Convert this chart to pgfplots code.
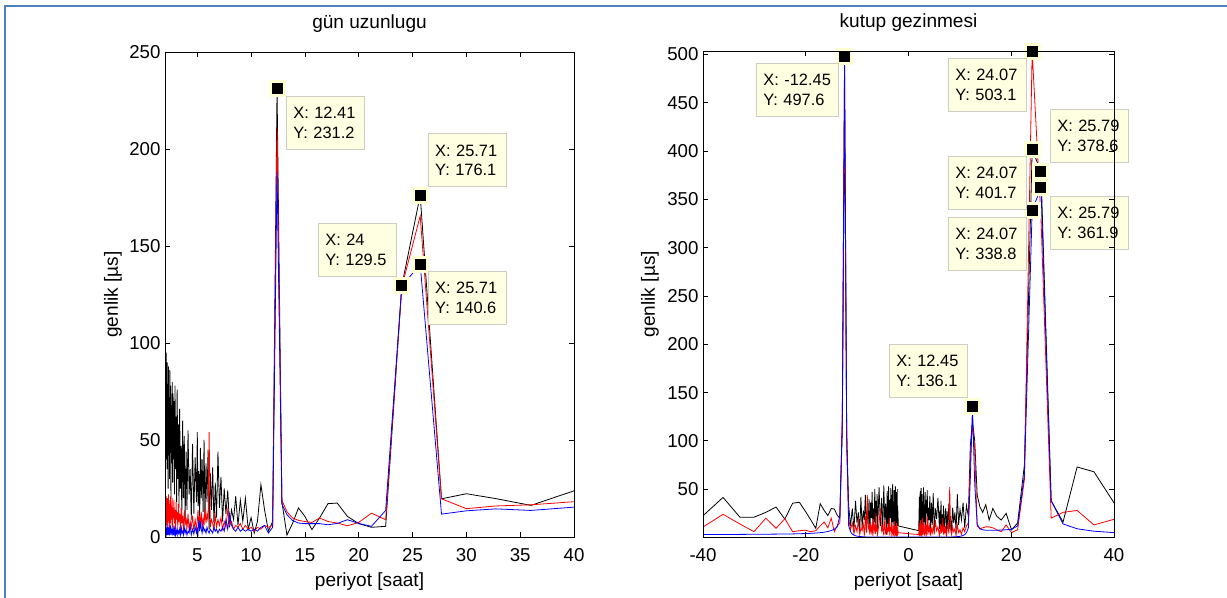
\documentclass[border=0pt]{standalone}
\usepackage{fontspec}
\setmainfont{Liberation Sans}
\usepackage{pgfplots}
\usepackage{pgfplotstable}
\pgfplotsset{compat=1.18}

\definecolor{frameblue}{RGB}{79,129,189}
\definecolor{tipfill}{RGB}{255,255,225}
\definecolor{tipborder}{RGB}{205,205,195}
\definecolor{halo}{RGB}{255,255,212}

% spectrum of length-of-day series: period [h], black, red, blue
\pgfplotstableread{
x bl re bu
2.00 78 14 2
2.01 97 20 3
2.03 60 9 1
2.06 88 18 6
2.08 40 6 2
2.11 95 21 4
2.13 52 10 1
2.16 82 16 5
2.18 35 5 2
2.21 90 20 3
2.24 48 12 1
2.26 76 18 7
2.29 25 7 2
2.32 88 22 4
2.35 42 9 1
2.38 72 19 5
2.42 30 4 2
2.45 86 17 3
2.48 45 11 1
2.52 78 21 6
2.55 20 6 2
2.59 68 16 4
2.63 38 9 1
2.67 80 20 5
2.71 28 5 2
2.75 74 15 3
2.79 40 10 1
2.83 70 19 6
2.88 22 7 2
2.93 78 14 4
2.98 35 4 1
3.03 62 18 3
3.08 18 9 2
3.13 76 13 5
3.19 30 5 1
3.24 58 17 3
3.30 15 8 2
3.36 66 12 4
3.43 25 4 1
3.50 47 15 6
3.56 11 7 2
3.64 60 11 3
3.71 20 3 1
3.79 52 14 5
3.87 8 6 2
3.96 44 10 4
4.04 14 4 1
4.14 55 12 3
4.24 22 3 2
4.34 35 8 6
4.44 9 5 1
4.56 48 11 4
4.68 12 3 1.5
4.80 41 9 5
4.93 18 4 2
5.00 54 8 4
5.07 16 14 2
5.14 34 5 9
5.22 7 11 3
5.29 46 6 8
5.37 20 13 4
5.45 40 4 2
5.54 13 10 6
5.63 50 6 3
5.71 9 15 4
5.81 38 7 2
5.90 18 12 5
6.00 45 8 3
6.10 4 54 2
6.21 33 5 4
6.32 14 9 3
6.43 36 7 2
6.55 6 4 5
6.67 28 11 3
6.79 10 5 4
6.92 44 9 2
7.06 15 6 4
7.20 31 10 3
7.35 8 4 5
7.50 25 8 3
7.66 12 5 9
7.83 24 14 4
8.00 5 6 12
8.18 14 8 6
8.37 9 4 4
8.57 21 6 3
8.78 6 5 5
9.00 19 7 3
9.23 8 4 4
9.47 20 6 3
9.73 4 4 4
10.00 10 5 3
10.29 2 3 4
10.59 8 5 3
10.91 27 4 5
11.25 14 6 6
11.61 3 5 2
12.00 8 6 5
12.41 231.2 211 188
12.86 18 19 17
13.33 1 13 11.5
13.85 7 9.8 8.5
14.40 15 8.6 7.2
15.00 10.6 8 6.9
15.65 3.8 7.5 6.9
16.36 9.8 9.8 6.9
17.14 17.2 8 6.3
18.00 17.5 7.2 7
18.95 10.6 5.8 8.9
20.00 6.9 7.5 7
21.18 5 12.3 5.5
22.50 5.5 8.9 13.7
24.00 129.5 129 129.3
25.71 176.1 165.5 140.6
27.69 19.7 19.7 11.8
30.00 22.3 14.6 13.5
32.73 19.8 16 14.5
36.00 16.3 16.6 13.7
40.00 23.8 18.2 15.4
}\gunuzun

% spectrum of polar motion series: signed period [h], black, red, blue
\pgfplotstableread{
x bl re bu
-40.11 22 10.5 3.0
-36.10 41.5 24 3.1
-32.82 21 14 3.2
-30.08 21 6 3.3
-27.77 26 20 3.4
-25.79 31.5 9.5 3.5
-24.07 19 19.5 3.6
-22.56 35.5 6 3.7
-21.24 36.5 7 3.9
-20.06 27 7.5 4.1
-19.00 18 6 4.3
-18.05 9.5 7 4.6
-17.19 35 12 5.0
-16.41 28 16 5.5
-15.70 22.6 10 6.2
-15.04 30 20 7.2
-14.44 29.5 6 8.6
-13.88 23 12 11
-13.37 20 15 22
-12.89 110 125 120
-12.45 452 488 497.6
-12.03 105 92 110
-11.65 33 20 12
-11.28 12 8 6
-10.94 30 15 3.5
-10.62 8 4 2.5
-10.31 38 12 1.8
-10.03 15 6 1.4
-9.76 26 18 1.2
-9.50 6 3 1.0
-9.26 42 10 0.9
-9.03 10 7 0.8
-8.80 28 14 0.75
-8.60 18 2 0.7
-8.40 44 22 0.6
-8.20 7 5 0.6
-8.02 32 44 0.6
-7.85 14 9 0.6
-7.68 40 13 0.6
-7.52 5 3 0.6
-7.37 36 16 0.6
-7.22 20 6 0.6
-7.08 47 11 0.6
-6.94 9 2 0.6
-6.81 30 19 0.6
-6.69 16 8 0.6
-6.56 50 12 0.6
-6.45 4 4 0.6
-6.33 38 25 0.6
-6.22 22 6 0.6
-6.12 45 10 0.6
-6.02 8 3 0.6
-5.73 52 15 0.6
-5.47 12 30 0.6
-5.23 41 7 0.6
-5.01 6 12 0.6
-4.81 54 2 0.6
-4.63 18 18 0.6
-4.46 35 5 0.6
-4.30 3 9 0.6
-4.15 48 3 0.6
-4.01 14 14 0.6
-3.88 53 6 0.6
-3.76 9 20 0.6
-3.65 39 2 0.6
-3.54 20 11 0.6
-3.44 51 7 0.6
-3.34 5 16 0.6
-3.25 44 1 0.6
-3.17 16 9 0.6
-3.09 55 4 0.6
-3.01 10 13 0.6
-2.93 37 2 0.6
-2.87 22 8 0.6
-2.80 49 5 0.6
-2.73 7 17 0.6
-2.67 42 1 0.6
-2.62 15 10 0.6
-2.56 53 3 0.6
-2.51 11 12 0.6
-2.46 35 2 0.6
-2.41 25 7 0.6
-2.36 47 4 0.6
-2.31 8 15 0.6
-2.27 40 1 0.6
-2.23 18 6 0.6
-2.19 50 9 0.6
-2.15 12 2 0.6
-2.11 33 11 0.6
-2.07 20 3 0.6
-2.04 27 7 0.6
-2.01 12 5 0.6
2.01 7 3 0.6
2.04 30 9 0.6
2.07 12 2 0.6
2.11 42 12 0.6
2.15 5 5 0.6
2.19 36 15 0.6
2.23 18 1 0.6
2.27 48 8 0.6
2.31 9 4 0.6
2.36 33 18 0.6
2.41 22 2 0.6
2.46 51 10 0.6
2.51 6 6 0.6
2.56 40 14 0.6
2.62 14 1 0.6
2.67 45 7 0.6
2.73 3 20 0.6
2.80 37 3 0.6
2.87 20 11 0.6
2.93 52 5 0.6
3.01 8 16 0.6
3.09 34 2 0.6
3.17 16 9 0.6
3.25 47 4 0.6
3.34 4 13 0.6
3.44 39 1 0.6
3.54 25 8 0.6
3.65 49 22 0.6
3.76 10 3 0.6
3.88 31 10 0.6
4.01 18 6 0.6
4.15 43 15 0.6
4.30 6 2 0.6
4.46 36 9 0.6
4.63 13 5 0.6
4.81 46 12 0.6
5.01 7 3 0.6
5.23 30 18 0.6
5.47 19 7 0.6
5.73 41 11 0.6
6.02 9 2 0.6
6.12 28 8 0.6
6.22 14 14 0.6
6.33 38 4 0.6
6.45 5 10 0.6
6.56 24 6 0.6
6.69 11 20 0.6
6.81 33 3 0.6
6.94 8 9 0.6
7.08 20 5 0.6
7.22 30 12 0.6
7.37 6 2 0.6
7.52 27 7 0.6
7.68 12 15 0.6
7.85 35 4 0.6
8.02 9 52 0.6
8.20 22 8 0.6
8.40 4 3 0.6
8.60 31 11 0.6
8.80 15 6 0.7
9.03 26 9 0.75
9.26 7 2 0.8
9.50 45 13 0.9
9.76 13 5 1.0
10.03 29 8 1.2
10.31 18 3 1.5
10.62 36 10 2
10.94 10 6 3
11.28 33 12 5
11.65 22 15 10
12.03 95 80 60
12.45 120 118 136.1
12.89 100 90 55
13.37 44 12 14
13.88 32 9 9
14.44 26 10 8
15.04 34 11 7.5
15.70 18 11 7.5
16.41 30 10 7.5
17.19 22 8 7.5
18.05 18 6 7.7
19.00 25 13 8
20.06 8 5 8.5
21.24 15 8 12
22.56 75 60 65
24.07 401.7 503.1 338.8
25.79 378.6 330 361.9
27.77 38 20 38
30.08 16 26 14
32.82 73 28 9
36.10 68 13 6.5
40.11 35 19 5
}\kutup

\newcommand{\tickfont}{\fontsize{14}{16}\selectfont}
\newcommand{\labfont}{\fontsize{14.3}{16}\selectfont}
\newcommand{\tipfont}{\fontsize{12.3}{14.4}\selectfont}

\tikzset{
  tip/.style={draw=tipborder, fill=tipfill, line width=0.6pt, anchor=north west,
    align=left, text width=48pt, inner xsep=5.25pt, minimum height=39.75pt,
    font=\tipfont},
}

\pgfplotsset{
  spec/.style={
    scale only axis,
    anchor=south west,
    axis on top,
    clip mode=individual,
    tick align=inside,
    major tick length=3.5pt,
    axis line style={line width=0.6pt},
    every tick/.style={black, line width=0.6pt},
    /pgf/number format/assume math mode=true,
    tick label style={font=\tickfont},
    xticklabel style={anchor=base, yshift=-18.5pt},
    yticklabel style={inner xsep=3.2pt},
    title style={font=\labfont, at={(axis description cs:0.5,1)}, anchor=base, yshift=12pt},
    xlabel style={font=\labfont, at={(axis description cs:0.5,0)}, anchor=base, yshift=-36.75pt},
    label style={font=\labfont},
  },
  bl/.style={black, line width=0.6pt},
  re/.style={red, line width=0.6pt},
  bu/.style={blue, line width=0.6pt},
  tipmark/.style={only marks, clip=false, mark=square*, mark size=5.25pt,
    mark options={fill=black, draw=halo, line width=2.25pt}},
}

\begin{document}
\begin{tikzpicture}
\path[use as bounding box] (0pt,0pt) rectangle (920.25pt,-448.5pt);
\fill[white] (0pt,0pt) rectangle (920.25pt,-448.5pt);
\draw[frameblue, line width=1.5pt] (4.1pt,-448.5pt) -- (4.1pt,-4.5pt) -- (920.25pt,-4.5pt);

% left panel: length of day
\begin{axis}[spec,
  at={(123.75pt,-402.75pt)}, width=306.75pt, height=363.75pt,
  xmin=2, xmax=40, ymin=0, ymax=250,
  xtick={5,10,...,40}, ytick={0,50,...,250},
  title={gün uzunlugu}, xlabel={periyot [saat]}, ylabel={genlik [µs]},
  ylabel style={at={(axis description cs:-0.115,0.5)}, anchor=base},
]
\addplot[bl] table[x=x, y=bl] {\gunuzun};
\addplot[re] table[x=x, y=re] {\gunuzun};
\addplot[bu] table[x=x, y=bu] {\gunuzun};
\addplot[tipmark] coordinates {(12.41,231.2) (25.71,176.1) (24,129.5) (25.71,140.6)};
\node[tip] at (axis cs:13.24,227.3) {X: 12.41\\Y: 231.2};
\node[tip] at (axis cs:26.42,208.2) {X: 25.71\\Y: 176.1};
\node[tip] at (axis cs:16.21,161.9) {X: 24\\Y: 129.5};
\node[tip] at (axis cs:26.42,137.1) {X: 25.71\\Y: 140.6};
\end{axis}

% right panel: polar motion
\begin{axis}[spec,
  at={(527.25pt,-402.75pt)}, width=308.25pt, height=364.125pt,
  xmin=-40, xmax=40, ymin=0.5, ymax=503.1,
  xtick={-40,-20,0,20,40}, ytick={50,100,...,500},
  title={kutup gezinmesi}, xlabel={periyot [saat]}, ylabel={genlik [µs]},
  ylabel style={at={(axis description cs:-0.117,0.5)}, anchor=base},
]
\addplot[bl] table[x=x, y=bl] {\kutup};
\addplot[re] table[x=x, y=re] {\kutup};
\addplot[bu] table[x=x, y=bu] {\kutup};
\addplot[tipmark] coordinates {(-12.45,497.6) (24.07,503.1) (25.79,378.6)
  (24.07,401.7) (25.79,361.9) (24.07,338.8) (12.45,136.1)};
\node[tip, text width=51pt] at (axis cs:-29.68,491.2) {X: -12.45\\Y: 497.6};
\node[tip] at (axis cs:7.69,496.4) {X: 24.07\\Y: 503.1};
\node[tip] at (axis cs:27.54,443.6) {X: 25.79\\Y: 378.6};
\node[tip] at (axis cs:7.69,394.9) {X: 24.07\\Y: 401.7};
\node[tip] at (axis cs:27.54,353.5) {X: 25.79\\Y: 361.9};
\node[tip] at (axis cs:7.69,331.8) {X: 24.07\\Y: 338.8};
\node[tip] at (axis cs:-3.80,200.3) {X: 12.45\\Y: 136.1};
\end{axis}
\end{tikzpicture}
\end{document}
